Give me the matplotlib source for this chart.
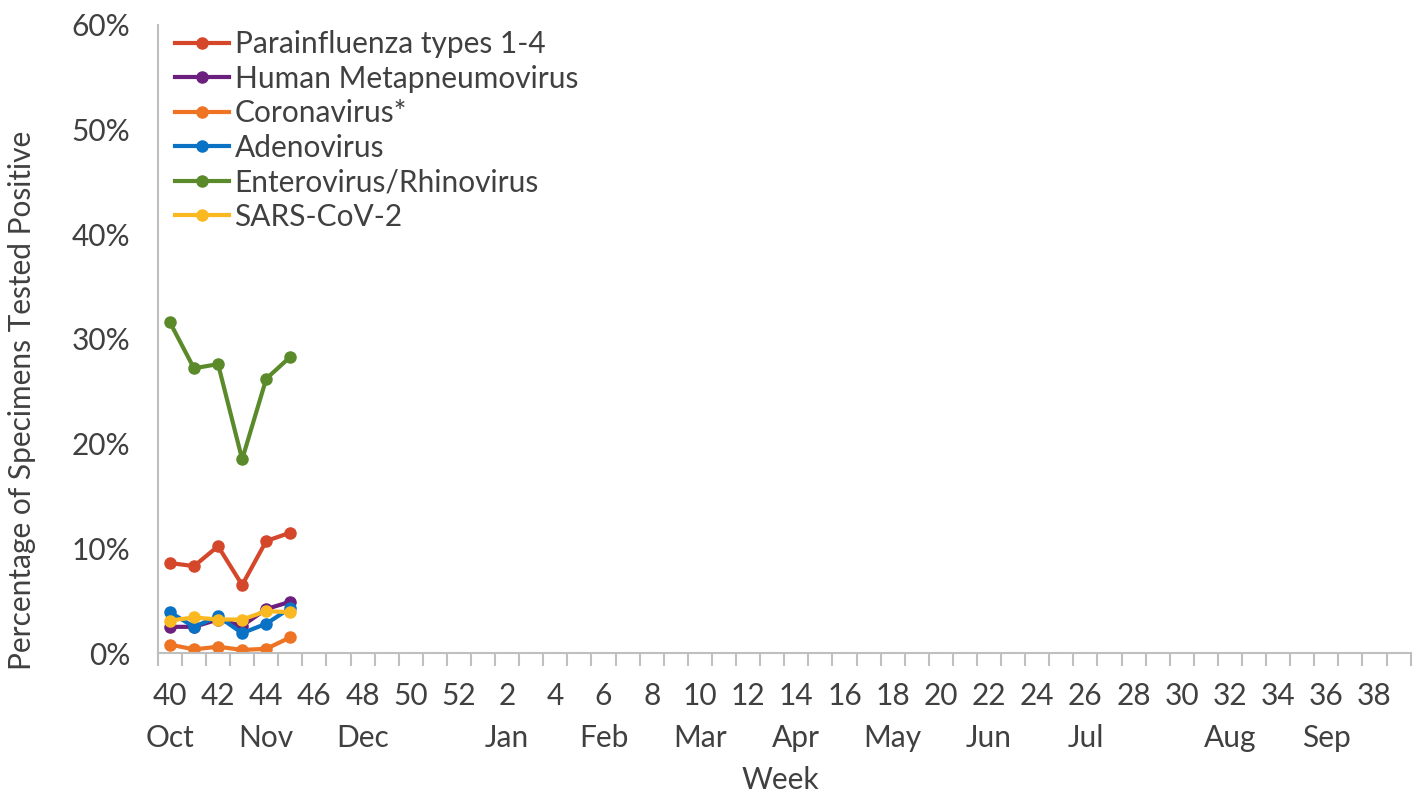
import numpy as np
import matplotlib.pyplot as plt
from matplotlib import transforms

plt.rcParams['font.family'] = ['Lato', 'DejaVu Sans']

weeks = list(range(40, 53)) + list(range(1, 40))
month_names = ['Oct', 'Nov', 'Dec', 'Jan', 'Feb', 'Mar', 'Apr', 'May', 'Jun', 'Jul', 'Aug', 'Sep']
month_weeks = [40, 44, 48, 2, 6, 10, 14, 18, 22, 26, 32, 36]

# percent positive, weeks 40-45
parainfluenza = [8.6, 8.3, 10.2, 6.5, 10.7, 11.5]
hmpv = [2.5, 2.5, 3.2, 2.6, 4.2, 4.9]
coronavirus = [0.8, 0.35, 0.6, 0.3, 0.4, 1.5]
adenovirus = [3.9, 2.5, 3.5, 1.9, 2.8, 4.3]
entero_rhino = [31.6, 27.2, 27.6, 18.5, 26.2, 28.3]
sars_cov2 = [3.1, 3.4, 3.2, 3.2, 4.0, 3.9]

series = [
    ('Parainfluenza types 1-4', parainfluenza, '#D4472A'),
    ('Human Metapneumovirus', hmpv, '#6B1F7E'),
    ('Coronavirus*', coronavirus, '#EE7423'),
    ('Adenovirus', adenovirus, '#0A72C4'),
    ('Enterovirus/Rhinovirus', entero_rhino, '#5B8A2B'),
    ('SARS-CoV-2', sars_cov2, '#FBB921'),
]

fs = 21.5
fig = plt.figure(figsize=(14.22, 7.95), dpi=100)
ax = fig.add_axes([0.111, 0.1786, 0.881, 0.79])

x = np.arange(len(weeks))
for name, vals, col in series:
    ax.plot(x[:len(vals)], np.array(vals) / 100, '-o', color=col, lw=3,
            ms=8, label=name)

ax.set_xlim(-0.5, len(weeks) - 0.5)
ax.set_ylim(0, 0.6)
ax.set_yticks(np.arange(0, 0.61, 0.1))
ax.set_yticklabels([f'{int(round(v * 100))}%' for v in np.arange(0, 0.61, 0.1)])

lab_idx = [i for i, w in enumerate(weeks) if w % 2 == 0]
ax.set_xticks(lab_idx)
ax.set_xticklabels([str(weeks[i]) for i in lab_idx])
ax.set_xticks(np.arange(-0.5, len(weeks), 1), minor=True)
ax.tick_params(axis='x', which='major', length=0, pad=21, labelsize=fs, colors='#404040')
ax.tick_params(axis='x', which='minor', length=9, width=1.5, color='#BFBFBF')
ax.tick_params(axis='y', length=0, pad=20, labelsize=fs, colors='#404040')

trans = transforms.blended_transform_factory(ax.transData, ax.transAxes)
for m, w in zip(month_names, month_weeks):
    ax.text(weeks.index(w), -0.135, m, transform=trans, ha='center', va='center',
            fontsize=fs, color='#404040')

for s in ['top', 'right']:
    ax.spines[s].set_visible(False)
for s in ['left', 'bottom']:
    ax.spines[s].set_color('#BFBFBF')
    ax.spines[s].set_linewidth(1.5)

fig.text(22 / 1422, 1 - 400 / 795, 'Percentage of Specimens Tested Positive', rotation=90,
         ha='center', va='center', fontsize=fs, color='#404040')
fig.text(0.549, 1 - 780 / 795, 'Week', ha='center', va='center', fontsize=fs, color='#404040')

ax.legend(loc='upper left', bbox_to_anchor=(0.004, 1.011), frameon=False, fontsize=fs,
          handlelength=1.8, handletextpad=0.2, labelspacing=0.22, borderaxespad=0,
          labelcolor='#404040')

fig.savefig('out.png', dpi=100)
